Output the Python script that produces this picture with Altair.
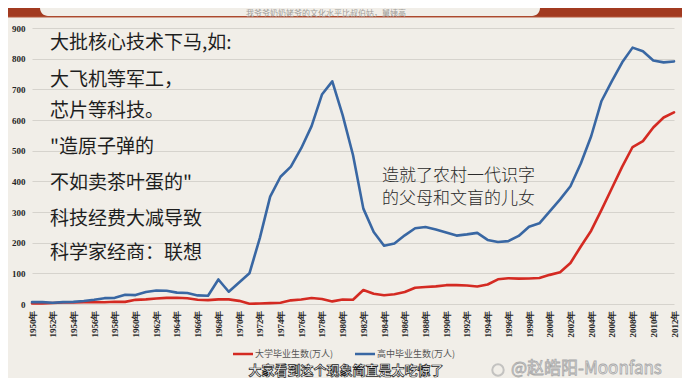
import altair as alt
import pandas as pd

years = list(range(1950, 2013))

# 大学毕业生数(万人)
univ = [1.8, 1.9, 3.2, 4.8, 4.7, 5.5, 6.3, 5.6, 7.2, 7.0,
        13.6, 15.1, 17.7, 19.9, 20.4, 18.6, 14.1, 12.5, 15.0, 15.0,
        10.3, 0.6, 1.7, 3.0, 4.3, 11.9, 14.9, 19.4, 16.5, 8.5,
        14.7, 14.0, 45.7, 33.5, 28.7, 31.6, 39.3, 53.2, 55.3, 57.6,
        61.4, 61.4, 60.4, 57.1, 63.7, 80.5, 83.9, 82.9, 83.0, 84.8,
        95.0, 103.6, 133.7, 187.7, 239.1, 306.8, 377.5, 447.8, 511.9, 531.1,
        575.4, 608.2, 624.7]

# 高中毕业生数(万人)
high = [6, 6, 4, 6, 7, 10, 14, 19, 20, 30,
        29, 39, 44, 43, 37, 36, 28, 27, 80, 40,
        70, 100, 215, 350, 415, 448, 508, 580, 683, 726,
        616, 486, 311, 235, 190, 197, 224, 247, 251, 243,
        233, 223, 227, 232, 209, 202, 205, 222, 252, 263,
        302, 341, 384, 458, 547, 662, 727, 788, 836, 824,
        794, 788, 791]

series_names = ["大学毕业生数(万人)", "高中毕业生数(万人)"]
series_colors = ["#d42a22", "#3967a3"]

left_notes = ["大批核心技术下马,如:", "大飞机等军工，", "芯片等科技。",
              "\"造原子弹的", "不如卖茶叶蛋的\"", "科技经费大减导致", "科学家经商：联想"]
right_notes = ["造就了农村一代识字", "的父母和文盲的儿女"]
top_caption = "我爷爷奶奶姥爷的文化水平比叔伯姑，舅姨高"
bottom_caption = "大家看到这个现象简直是太吃惊了"
watermark = "@赵皓阳-Moonfans"

df = pd.DataFrame({
    "year": years * 2,
    "value": univ + high,
    "series": [series_names[0]] * len(years) + [series_names[1]] * len(years),
})

# page -> plot coordinates (plot origin at page (32, 28))
def px(x):
    return x - 32

def py(y):
    return y - 28

NUM_FONT = "Liberation Sans Narrow"
CJK = "Noto Sans CJK SC"

one = pd.DataFrame({"k": [0]})

lines = alt.Chart(df).mark_line(strokeWidth=2.6, strokeJoin="round", strokeCap="round").encode(
    x=alt.X("year:Q", scale=alt.Scale(domain=[1950, 2012], nice=False, zero=False),
            axis=alt.Axis(values=list(range(1950, 2013, 2)), labelAngle=-90, labelAlign="right",
                          labelBaseline="middle", labelPadding=6, ticks=False, domain=False,
                          grid=False, title=None, labelExpr="datum.value + '年'",
                          labelFont=NUM_FONT, labelFontSize=9, labelFontWeight="bold",
                          labelColor="#262626", labelOverlap=False)),
    y=alt.Y("value:Q", scale=alt.Scale(domain=[0, 900], nice=False),
            axis=alt.Axis(values=list(range(0, 901, 100)), ticks=False, domain=False,
                          gridColor="#d6d3cd", gridWidth=1, labelPadding=7, title=None,
                          labelFont=NUM_FONT, labelFontSize=9, labelFontWeight="bold",
                          labelColor="#262626")),
    color=alt.Color("series:N", scale=alt.Scale(domain=series_names, range=series_colors), legend=None),
    detail="series:N",
)

layers = []

# top banner
layers.append(alt.Chart(one).mark_rect(color="#a23a20").encode(
    x=alt.value(px(0)), x2=alt.value(px(690)), y=alt.value(py(0)), y2=alt.value(py(17))))
layers.append(alt.Chart(one).mark_rect(color="#f1eee8", cornerRadiusBottomLeft=10,
                                       cornerRadiusBottomRight=10).encode(
    x=alt.value(px(40)), x2=alt.value(px(540)), y=alt.value(py(0)), y2=alt.value(py(16))))
layers.append(alt.Chart(one).mark_rule(color="#b5593c", strokeWidth=1.2).encode(
    x=alt.value(px(0)), x2=alt.value(px(690)), y=alt.value(py(17))))
layers.append(alt.Chart(one).mark_text(text=top_caption, font=CJK, fontSize=8, fill="#a09d99",
                                       align="center", baseline="middle").encode(
    x=alt.value(px(326)), y=alt.value(py(13.5))))

# left notes
left_y = [43, 80, 111, 147, 183, 219, 253]
for t, yy in zip(left_notes, left_y):
    layers.append(alt.Chart(one).mark_text(text=t, font=CJK, fontSize=19, color="#1e1e1e",
                                           align="left", baseline="middle").encode(
        x=alt.value(px(50)), y=alt.value(py(yy))))

# right notes
for t, yy in zip(right_notes, [176, 199]):
    layers.append(alt.Chart(one).mark_text(text=t, font=CJK, fontSize=17, fontWeight=300,
                                           color="#2a2a2a", align="left", baseline="middle").encode(
        x=alt.value(px(382)), y=alt.value(py(yy))))

# legend
for i, (name, col, lx) in enumerate(zip(series_names, series_colors, [233, 355])):
    layers.append(alt.Chart(one).mark_rule(color=col, strokeWidth=2.5).encode(
        x=alt.value(px(lx)), x2=alt.value(px(lx + 20)), y=alt.value(py(354))))
    layers.append(alt.Chart(one).mark_text(text=name, font=CJK, fontSize=9, color="#555555",
                                           align="left", baseline="middle").encode(
        x=alt.value(px(lx + 22)), y=alt.value(py(354))))

# bottom caption (white with dark outline)
layers.append(alt.Chart(one).mark_text(text=bottom_caption, font=CJK, fontSize=13, fontWeight="bold",
                                       fill="#ffffff", stroke="#1a1a1a", strokeWidth=0.7,
                                       align="center", baseline="middle").encode(
    x=alt.value(px(346)), y=alt.value(py(371))))

# watermark
layers.append(alt.Chart(one).mark_point(shape="circle", size=130, filled=False, color="#b0b0b0",
                                        strokeWidth=2).encode(
    x=alt.value(px(498)), y=alt.value(py(370))))
layers.append(alt.Chart(one).mark_text(text=watermark, font=CJK, fontSize=17, fill="#efefef",
                                       stroke="#a8a8a8", strokeWidth=0.8, align="left",
                                       baseline="middle").encode(
    x=alt.value(px(511)), y=alt.value(py(369))))

chart = alt.layer(lines, *layers).properties(
    width=642, height=276,
    autosize=alt.AutoSizeParams(type="none"),
    padding={"left": 24, "top": 20, "right": 8, "bottom": 74},
    background="#f1eee8",
).configure_view(stroke=None)

chart.save("out.html", embed_options={"renderer": "svg", "actions": False})
